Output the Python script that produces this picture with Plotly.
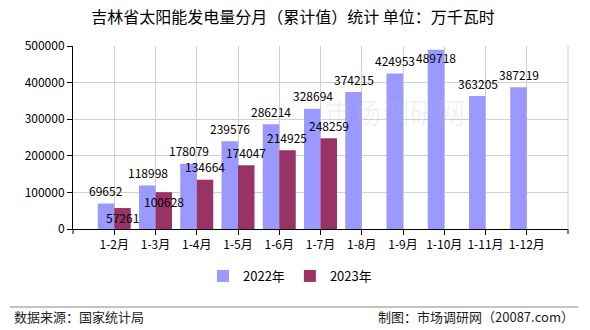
import plotly.graph_objects as go

categories = ["1-2月", "1-3月", "1-4月", "1-5月", "1-6月", "1-7月", "1-8月", "1-9月", "1-10月", "1-11月", "1-12月"]
values_2022 = [69652, 118998, 178079, 239576, 286214, 328694, 374215, 424953, 489718, 363205, 387219]
values_2023 = [57261, 100628, 134664, 174047, 214925, 248259]
# label vertical offsets (px); some labels sit inside the bar top (overlap / clip avoidance)
offsets_2022 = [13, 13, 13, 13, 13, 13, 13, 13, -8, 13, 13]
offsets_2023 = [-9, -9, 13, 13, 13, 13]

FONT = "Noto Sans CJK SC"
BLUE = "#9999FF"
RED = "#993366"

fig = go.Figure()
fig.add_trace(go.Bar(x=categories, y=values_2022, name="2022年", marker_color=BLUE, marker_line_width=0))
fig.add_trace(go.Bar(x=categories[:len(values_2023)], y=values_2023, name="2023年", marker_color=RED, marker_line_width=0))

annotations = []
# watermark (drawn first, faint)
annotations.append(dict(x=(395 - 73) / 495, y=(229 - 112) / 183, xref="paper", yref="paper", text="市场调研网",
                        showarrow=False, font=dict(family=FONT, size=28, color="rgba(190,190,210,0.2)")))
for c, v, o in zip(categories, values_2022, offsets_2022):
    annotations.append(dict(x=c, y=v, xref="x", yref="y", text=str(v), showarrow=False,
                            xshift=-8, yshift=o, font=dict(family=FONT, size=12, color="#000")))
for c, v, o in zip(categories, values_2023, offsets_2023):
    annotations.append(dict(x=c, y=v, xref="x", yref="y", text=str(v), showarrow=False,
                            xshift=8, yshift=o, font=dict(family=FONT, size=12, color="#000")))

# footer
annotations.append(dict(x=(12 - 73) / 495, y=(229 - 316) / 183, xref="paper", yref="paper",
                        text="数据来源：国家统计局", showarrow=False, xanchor="left", yanchor="middle",
                        font=dict(family=FONT, size=13, color="#222")))
annotations.append(dict(x=(576 - 73) / 495, y=(229 - 316) / 183, xref="paper", yref="paper",
                        text="制图：市场调研网（20087.com）", showarrow=False, xanchor="right", yanchor="middle",
                        font=dict(family=FONT, size=13, color="#222")))

shapes = [
    dict(type="line", xref="paper", yref="paper", x0=(10 - 73) / 495, x1=(578 - 73) / 495,
         y0=(229 - 307) / 183, y1=(229 - 307) / 183, line=dict(color="#888", width=1)),
    dict(type="line", xref="paper", yref="paper", x0=1, x1=1, y0=0, y1=1, line=dict(color="#d0d0d0", width=1)),
    dict(type="line", xref="paper", yref="paper", x0=0, x1=0, y0=0, y1=-5 / 183, line=dict(color="#000", width=1)),
    dict(type="line", xref="paper", yref="paper", x0=1, x1=1, y0=0, y1=-5 / 183, line=dict(color="#000", width=1)),
]

fig.update_layout(
    width=590, height=330,
    margin=dict(l=73, r=22, t=46, b=101),
    paper_bgcolor="white", plot_bgcolor="white",
    font=dict(family=FONT, size=12, color="#000"),
    title=dict(text="吉林省太阳能发电量分月（累计值）统计 单位：万千瓦时", x=293 / 590, xanchor="center",
               y=1 - 17 / 330, yanchor="middle", font=dict(family=FONT, size=16, color="#000")),
    barmode="group", bargap=0.2, bargroupgap=0,
    xaxis=dict(type="category", range=[-1, 11], showgrid=True, gridcolor="#d0d0d0", gridwidth=1,
               showline=True, linecolor="#000", linewidth=1, ticks="outside", ticklen=5, tickcolor="#000",
               tickfont=dict(family=FONT, size=12), zeroline=False),
    yaxis=dict(range=[0, 500000], dtick=100000, showgrid=True, gridcolor="#d0d0d0", gridwidth=1,
               showline=True, linecolor="#000", linewidth=1, ticks="outside", ticklen=5, tickcolor="#000",
               tickfont=dict(family=FONT, size=12), tickformat="d", zeroline=False),
    legend=dict(orientation="h", x=(290 - 73) / 495, xanchor="center", y=(229 - 276) / 183, yanchor="middle",
                font=dict(family=FONT, size=13), bgcolor="rgba(0,0,0,0)", itemwidth=30),
    annotations=annotations,
    shapes=shapes,
)

fig.write_html("out.html")
